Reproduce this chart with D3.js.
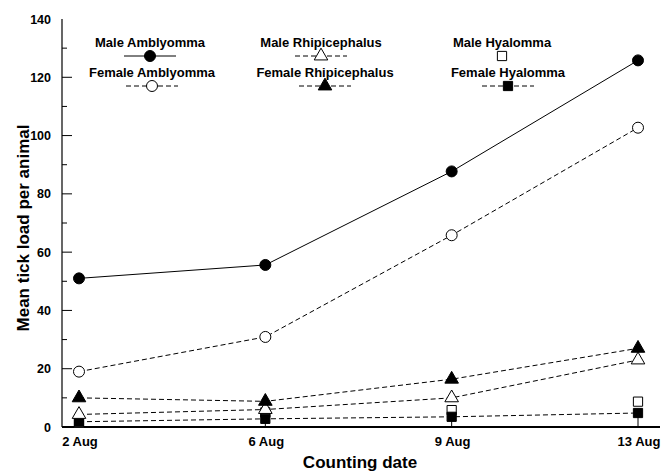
<!DOCTYPE html>
<html>
<head>
<meta charset="utf-8">
<script src="https://cdn.jsdelivr.net/npm/d3@7"></script>
<style>
  body { margin: 0; background: #fff; }
  svg { display: block; font-family: "Liberation Sans", Arial, sans-serif; font-weight: bold; }
</style>
</head>
<body>
<div id="container"></div>
<script>
const dates = ['2 Aug', '6 Aug', '9 Aug', '13 Aug'];
const yTicks = [0, 20, 40, 60, 80, 100, 120, 140];

const maleAmblyomma = [51, 55.6, 87.7, 125.8];
const femaleAmblyomma = [19, 30.9, 65.8, 102.7];
const maleRhipicephalus = [4.3, 6, 10, 23];
const femaleRhipicephalus = [10, 8.8, 16.4, 27];
const maleHyalomma = [1.5, 5, 5.8, 8.7];
const femaleHyalomma = [1.8, 2.8, 3.5, 4.8];

const width = 662;
const height = 473;

const series = [
    { name: 'Male Amblyomma', values: maleAmblyomma, symbol: 'circle', fill: true, line: 'solid' },
    { name: 'Female Amblyomma', values: femaleAmblyomma, symbol: 'circle', fill: false, line: 'dash' },
    { name: 'Male Rhipicephalus', values: maleRhipicephalus, symbol: 'triangle', fill: false, line: 'dash' },
    { name: 'Female Rhipicephalus', values: femaleRhipicephalus, symbol: 'triangle', fill: true, line: 'dash' },
    { name: 'Male Hyalomma', values: maleHyalomma, symbol: 'square', fill: false, line: 'none' },
    { name: 'Female Hyalomma', values: femaleHyalomma, symbol: 'square', fill: true, line: 'dash' }
];

// legend layout: column centre, row baseline
const legendPos = [
    { x: 150, y: 47 }, { x: 152, y: 77 },
    { x: 321, y: 47 }, { x: 325, y: 77 },
    { x: 502, y: 47 }, { x: 508, y: 77 }
];

const x = d3.scalePoint().domain(dates).range([79, 638]);
const y = d3.scaleLinear().domain([0, 140]).range([427, 19]);

const svg = d3.select('#container')
    .append('svg')
    .attr('width', width)
    .attr('height', height);

const symbolPath = (type) => {
    if (type === 'circle') return d3.symbol(d3.symbolCircle, 95)();
    if (type === 'triangle') return d3.symbol(d3.symbolTriangle, 80)();
    return d3.symbol(d3.symbolSquare, 85)();
};

// y axis
const yAxis = svg.append('g').attr('transform', 'translate(62,0)');
yAxis.append('line')
    .attr('y1', y(140)).attr('y2', y(0))
    .attr('stroke', '#000').attr('stroke-width', 1.2);
yAxis.selectAll('.minor')
    .data(d3.range(10, 140, 20))
    .join('line')
    .attr('x1', 0).attr('x2', 5)
    .attr('y1', d => y(d)).attr('y2', d => y(d))
    .attr('stroke', '#000');
yAxis.selectAll('.major')
    .data(yTicks.filter(d => d > 0 && d < 140))
    .join('line')
    .attr('x1', 0).attr('x2', 10)
    .attr('y1', d => y(d)).attr('y2', d => y(d))
    .attr('stroke', '#000');
yAxis.selectAll('text')
    .data(yTicks)
    .join('text')
    .attr('x', -11)
    .attr('y', d => y(d))
    .attr('dy', '0.36em')
    .attr('text-anchor', 'end')
    .attr('font-size', 12.5)
    .text(d => d);

// x axis
svg.append('line')
    .attr('x1', 62).attr('x2', 660)
    .attr('y1', y(0)).attr('y2', y(0))
    .attr('stroke', '#000').attr('stroke-width', 2);
svg.selectAll('.xtick')
    .data(dates)
    .join('line')
    .attr('x1', d => x(d)).attr('x2', d => x(d))
    .attr('y1', y(0)).attr('y2', y(0) - 10)
    .attr('stroke', '#000');
svg.selectAll('.xlabel')
    .data(dates)
    .join('text')
    .attr('x', d => x(d) + 1)
    .attr('y', 446)
    .attr('text-anchor', 'middle')
    .attr('font-size', 13)
    .text(d => d);

svg.append('text')
    .attr('x', 360).attr('y', 468)
    .attr('text-anchor', 'middle')
    .attr('font-size', 17)
    .text('Counting date');

svg.append('text')
    .attr('transform', 'translate(29,228) rotate(-90)')
    .attr('text-anchor', 'middle')
    .attr('font-size', 17)
    .text('Mean tick load per animal');

// lines
const line = d3.line().x((d, i) => x(dates[i])).y(d => y(d));
svg.selectAll('.series')
    .data(series.filter(s => s.line !== 'none'))
    .join('path')
    .attr('d', s => line(s.values))
    .attr('fill', 'none')
    .attr('stroke', '#000')
    .attr('stroke-width', 1)
    .attr('stroke-dasharray', s => s.line === 'dash' ? '5,3' : null);

// markers (squares first so triangles/circles sit over them)
const order = [4, 5, 2, 3, 1, 0];
order.forEach(k => {
    const s = series[k];
    svg.append('g').selectAll('path')
        .data(s.values)
        .join('path')
        .attr('transform', (d, i) => `translate(${x(dates[i])},${y(d)})`)
        .attr('d', symbolPath(s.symbol))
        .attr('fill', s.fill ? '#000' : '#fff')
        .attr('stroke', '#000')
        .attr('stroke-width', 1);
});

// legend
const legend = svg.append('g');
series.forEach((s, i) => {
    const p = legendPos[i];
    const g = legend.append('g').attr('transform', `translate(${p.x},${p.y})`);
    g.append('text')
        .attr('text-anchor', 'middle')
        .attr('font-size', 13)
        .text(s.name);
    if (s.line !== 'none') {
        g.append('line')
            .attr('x1', -26).attr('x2', 26)
            .attr('y1', 9).attr('y2', 9)
            .attr('stroke', '#000')
            .attr('stroke-dasharray', s.line === 'dash' ? '5,3' : null);
    }
    g.append('path')
        .attr('transform', 'translate(0,9)')
        .attr('d', symbolPath(s.symbol))
        .attr('fill', s.fill ? '#000' : '#fff')
        .attr('stroke', '#000');
});
</script>
</body>
</html>
